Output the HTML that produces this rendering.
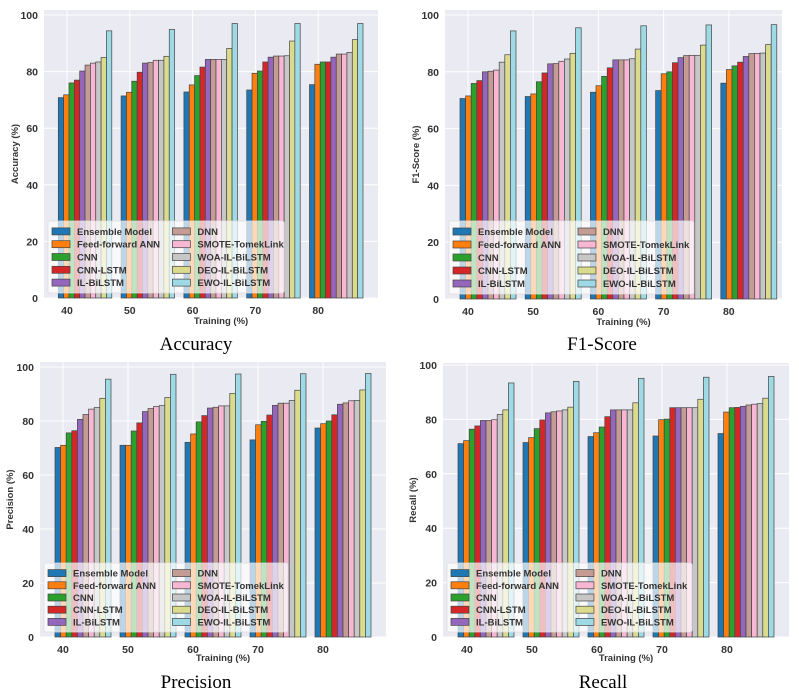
<!DOCTYPE html>
<html><head><meta charset="utf-8"><style>
html,body{margin:0;padding:0;background:#fff;}
svg{display:block;}
text{font-family:"Liberation Sans",sans-serif;}
</style></head><body>
<svg id="fig" width="799" height="696" viewBox="0 0 799 696" xmlns="http://www.w3.org/2000/svg"></svg>
<script>
const categories = ["40","50","60","70","80"];
const seriesNames = ["Ensemble Model","Feed-forward ANN","CNN","CNN-LSTM","IL-BiLSTM","DNN","SMOTE-TomekLink","WOA-IL-BiLSTM","DEO-IL-BiLSTM","EWO-IL-BiLSTM"];
const yTicks = [0,20,40,60,80,100];
const accuracyValues = [
 [70.8,71.8,76,77,80.2,82.3,83,83.4,85,94.4],
 [71.4,72.7,76.6,79.8,83,83.2,84,84,85.4,94.9],
 [72.8,75.3,78.6,81.6,84.3,84.3,84.3,84.3,88.2,97],
 [73.5,79.4,80.2,83.4,85.1,85.5,85.5,85.6,90.8,97],
 [75.4,82.6,83.4,83.4,85.1,86.2,86.2,86.8,91.3,97]];
const f1Values = [
 [70.6,71.5,75.9,76.9,80,80.2,80.6,83.4,86,94.4],
 [71.3,72.2,76.5,79.6,82.8,82.9,83.7,84.5,86.5,95.5],
 [72.8,75.1,78.4,81.4,84.2,84.2,84.2,84.6,88,96.2],
 [73.4,79.3,80,83.2,85,85.7,85.8,85.8,89.4,96.5],
 [76,80.8,82.1,83.4,85.4,86.4,86.5,86.6,89.6,96.6]];
const precisionValues = [
 [70.2,71,75.6,76.4,80.6,82.4,84.4,85,88.4,95.5],
 [71,71,76.3,79.3,83.5,84.6,85.4,85.7,88.7,97.3],
 [72.1,75.2,79.7,82,84.8,85.1,85.6,85.6,90.2,97.4],
 [73,78.6,79.9,82.2,85.8,86.6,86.6,87.6,91.4,97.5],
 [77.4,79,80,82.3,86.2,86.7,87.5,87.6,91.5,97.6]];
const recallValues = [
 [71.1,72.2,76.4,77.6,79.6,79.6,79.9,81.8,83.5,93.4],
 [71.5,73.3,76.6,79.8,82.4,82.8,83.1,83.5,84.5,94],
 [73.7,75.1,77.2,81,83.5,83.5,83.5,83.5,86.1,95.1],
 [73.9,79.9,80.1,84.3,84.3,84.3,84.3,84.3,87.4,95.5],
 [74.8,82.7,84.3,84.4,84.8,85.3,85.6,85.8,87.8,95.8]];
const colors = ["#1f77b4","#ff7f0e","#2ca02c","#d62728","#9467bd","#c49c94","#f7b6d2","#c7c7c7","#dbdb8d","#9edae5"];

const NS="http://www.w3.org/2000/svg";
const svg=document.getElementById('fig');
function mk(tag,attrs,parent){const e=document.createElementNS(NS,tag);for(const k in attrs)e.setAttribute(k,attrs[k]);(parent||svg).appendChild(e);return e;}

const charts=[
 {key:"accuracy",values:accuracyValues,ylabel:"Accuracy (%)",caption:"Accuracy",px0:44,px1:378,ptop:10,y0:298,y100:15,tick0:67,tickStep:62.8,barW:5.35,barOff:-8.7,capX:196,capY:350,yLabX:18,xLabY:324,leg:[48,221,236,72]},
 {key:"f1-score",values:f1Values,ylabel:"F1-Score (%)",caption:"F1-Score",px0:445,px1:782,ptop:10,y0:299,y100:15,tick0:468,tickStep:65.2,barW:5.6,barOff:-8,capX:602,capY:350,yLabX:419,xLabY:325,leg:[449,221,245,73]},
 {key:"precision",values:precisionValues,ylabel:"Precision (%)",caption:"Precision",px0:40,px1:386,ptop:362,y0:637,y100:367,tick0:63,tickStep:65,barW:5.6,barOff:-8,capX:196,capY:688,yLabX:13,xLabY:661,leg:[44,563,244,69]},
 {key:"recall",values:recallValues,ylabel:"Recall (%)",caption:"Recall",px0:443,px1:789,ptop:363,y0:637,y100:365,tick0:467,tickStep:65,barW:5.6,barOff:-9,capX:603,capY:688,yLabX:416,xLabY:661,leg:[447,563,245,69]}
];

charts.forEach(c=>{
 const g=mk('g',{});
 
 
 const yS=v=>c.y0-(v/100)*(c.y0-c.y100);
 const xS=i=>c.tick0+i*c.tickStep;
 const bg=mk('rect',{x:c.px0,y:c.ptop,width:c.px1-c.px0,height:c.y0-c.ptop,fill:"#eaeaf2"},g);
 
 
 yTicks.forEach(t=>{
  mk('line',{x1:c.px0,x2:c.px1,y1:yS(t),y2:yS(t),stroke:"#fff","stroke-width":1},g);
  const tl=mk('text',{x:c.px0-6,y:yS(t)+4,"text-anchor":"end","font-size":"10.5","font-weight":"bold",fill:"#333"},g);
  tl.textContent=t;
  
  
 });
 categories.forEach((cat,i)=>{
  mk('line',{x1:xS(i),x2:xS(i),y1:c.ptop,y2:c.y0,stroke:"#fff","stroke-width":1},g);
  const tl=mk('text',{x:xS(i),y:c.y0+16,"text-anchor":"middle","font-size":"10.5","font-weight":"bold",fill:"#333"},g);
  tl.textContent=cat;
  
  
 });
 c.values.forEach((grp,i)=>{
  grp.forEach((v,j)=>{
   const x=xS(i)+c.barOff+j*c.barW;
   const r=mk('rect',{x:x,y:yS(v),width:c.barW,height:c.y0-yS(v),fill:colors[j],stroke:"#444","stroke-width":0.7},g);
   
   
  });
 });
 const yl=mk('text',{x:c.yLabX,y:(c.ptop+c.y0)/2,"text-anchor":"middle","font-size":"9.5","font-weight":"bold",fill:"#333",transform:`rotate(-90 ${c.yLabX} ${(c.ptop+c.y0)/2})`},g);
 yl.textContent=c.ylabel;
 
 
 const xl=mk('text',{x:(c.px0+c.px1)/2+10,y:c.xLabY,"text-anchor":"middle","font-size":"9.5","font-weight":"bold",fill:"#333"},g);
 xl.textContent="Training (%)";
 
 
 // legend
 const [lx,ly,lw,lh]=c.leg;
 const lg=mk('g',{},g);
 
 
 mk('rect',{x:lx,y:ly,width:lw,height:lh,fill:"rgba(255,255,255,0.7)",stroke:"#ddd","stroke-width":0.8,rx:2},lg);
 const rowH=(lh-8)/5;
 seriesNames.forEach((n,j)=>{
  const col=Math.floor(j/5),row=j%5;
  const sx=lx+4+col*(lw*0.51);
  const sy=ly+4+row*rowH+rowH/2;
  const sw=mk('rect',{x:sx,y:sy-3.5,width:18,height:7,fill:colors[j],stroke:"#444","stroke-width":0.7},lg);
  
  
  const t=mk('text',{x:sx+25,y:sy+3.5,"font-size":"9.5","font-weight":"bold",fill:"#333"},lg);
  t.textContent=n;
  
  
 });
 const cap=mk('text',{x:c.capX,y:c.capY,"text-anchor":"middle","font-size":"19",fill:"#000","font-family":"Liberation Serif, serif"});
 cap.setAttribute('style','font-family:"Liberation Serif",serif');
 cap.textContent=c.caption;
 
 
});
</script>
</body></html>
